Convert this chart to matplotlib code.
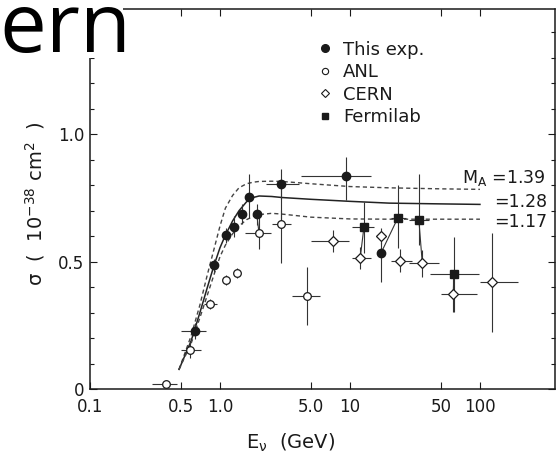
import numpy as np
import matplotlib
matplotlib.use('Agg')
import matplotlib.pyplot as plt
from matplotlib.lines import Line2D
from matplotlib.patches import Rectangle
from matplotlib.ticker import FixedLocator, MultipleLocator, NullLocator

# data
# this experiment (filled circles)
E_this = [0.64, 0.90, 1.11, 1.29, 1.48, 1.68, 1.92, 2.96, 9.4, 17.4]
s_this = [0.229, 0.486, 0.604, 0.638, 0.687, 0.755, 0.686, 0.806, 0.836, 0.536]
E_this_lo = [0.50, 0.84, 1.06, 1.24, 1.43, 1.63, 1.87, 2.24, 4.17, 17.4]
E_this_hi = [0.78, 0.97, 1.16, 1.34, 1.53, 1.73, 1.98, 4.05, 14.4, 17.4]
s_this_dn = [0.03, 0.025, 0.03, 0.04, 0.04, 0.085, 0.04, 0.06, 0.092, 0.114]
s_this_up = [0.03, 0.025, 0.03, 0.04, 0.04, 0.088, 0.04, 0.057, 0.076, 0.043]

# ANL (open circles)
E_anl = [0.382, 0.588, 0.838, 1.11, 1.36, 1.995, 2.96, 4.70]
s_anl = [0.021, 0.154, 0.333, 0.429, 0.455, 0.614, 0.647, 0.367]
E_anl_lo = [0.298, 0.50, 0.753, 1.07, 1.31, 1.55, 2.52, 3.60]
E_anl_hi = [0.469, 0.71, 0.954, 1.15, 1.41, 2.45, 3.50, 5.84]
s_anl_dn = [0.005, 0.03, 0.02, 0.02, 0.02, 0.065, 0.153, 0.115]
s_anl_up = [0.005, 0.03, 0.02, 0.02, 0.02, 0.065, 0.056, 0.114]

# CERN (open diamonds)
E_cern = [7.44, 12.0, 17.2, 24.4, 36.0, 62.3, 123.0]
s_cern = [0.583, 0.516, 0.601, 0.504, 0.495, 0.373, 0.419]
E_cern_lo = [5.0, 10.4, 15.8, 20.6, 28.5, 49.9, 101.0]
E_cern_hi = [9.8, 14.4, 18.8, 30.2, 48.3, 95.3, 197.0]
s_cern_err = [0.043, 0.043, 0.03, 0.046, 0.053, 0.069, 0.193]

# Fermilab (filled squares)
E_fnal = [12.8, 23.4, 33.9, 63.1]
s_fnal = [0.635, 0.673, 0.664, 0.452]
E_fnal_lo = [10.4, 20.6, 28.5, 41.6]
E_fnal_hi = [15.3, 26.8, 40.4, 98.0]
s_fnal_dn = [0.10, 0.12, 0.10, 0.147]
s_fnal_up = [0.10, 0.128, 0.18, 0.147]

# lines joining related points (this/anl, fnal/cern, ...)
ties_this_anl = [(7, 6), (6, 5)]
ties_fnal_cern = [(0, 1), (2, 4), (3, 5)]
ties_fnal_this = [(1, 9)]

# theory curves for three axial masses
E_th = [0.484, 0.6, 0.7, 0.8, 0.9, 1.0, 1.1, 1.25, 1.4, 1.6, 1.8, 2.0, 2.5, 3.0, 5.0, 10, 20, 50, 100]
s_139 = [0.078, 0.21, 0.33, 0.45, 0.55, 0.64, 0.71, 0.76, 0.79, 0.806, 0.812, 0.815, 0.816, 0.815, 0.806, 0.795, 0.79, 0.786, 0.784]
s_128 = [0.078, 0.19, 0.30, 0.40, 0.486, 0.555, 0.604, 0.66, 0.70, 0.735, 0.752, 0.758, 0.756, 0.752, 0.745, 0.737, 0.730, 0.727, 0.725]
s_117 = [0.078, 0.18, 0.28, 0.37, 0.45, 0.52, 0.565, 0.61, 0.64, 0.665, 0.678, 0.685, 0.69, 0.687, 0.675, 0.668, 0.667, 0.667, 0.667]
ma_labels = ['M$_A$ =1.39', '=1.28', '=1.17']

xticks = [0.1, 0.5, 1.0, 5.0, 10, 50, 100]
xticklabels = ['0.1', '0.5', '1.0', '5.0', '10', '50', '100']
yticks = [0, 0.5, 1.0]
yticklabels = ['0', '0.5', '1.0']

ink = '#1a1a1a'
plt.rcParams['font.family'] = ['DejaVu Sans']
plt.rcParams['mathtext.default'] = 'regular'

fig = plt.figure(figsize=(5.57, 4.54), dpi=100)
ax = fig.add_axes([90/557, 1 - 389.3/454, 465/557, 380/454])
ax.set_xscale('log')
ax.set_xlim(0.1, 378)
ax.set_ylim(0, 1.49)

def asym(v, lo, hi):
    v = np.array(v); return [v - np.array(lo), np.array(hi) - v]

ebkw = dict(ls='none', ecolor='#333333', elinewidth=0.8, capsize=0)
ax.errorbar(E_this, s_this, xerr=asym(E_this, E_this_lo, E_this_hi),
            yerr=[s_this_dn, s_this_up], fmt='o', ms=6, mfc=ink, mec=ink, zorder=4, **ebkw)
ax.errorbar(E_anl, s_anl, xerr=asym(E_anl, E_anl_lo, E_anl_hi),
            yerr=[s_anl_dn, s_anl_up], fmt='o', ms=5.5, mfc='white', mec=ink, mew=0.9, zorder=4, **ebkw)
ax.errorbar(E_cern, s_cern, xerr=asym(E_cern, E_cern_lo, E_cern_hi),
            yerr=s_cern_err, fmt='D', ms=5, mfc='white', mec=ink, mew=0.9, zorder=4, **ebkw)
ax.errorbar(E_fnal, s_fnal, xerr=asym(E_fnal, E_fnal_lo, E_fnal_hi),
            yerr=[s_fnal_dn, s_fnal_up], fmt='s', ms=5.5, mfc=ink, mec=ink, zorder=4, **ebkw)

for a, b in ties_this_anl:
    ax.plot([E_this[a], E_anl[b]], [s_this[a], s_anl[b]], color='#333333', lw=0.8, zorder=3)
for a, b in ties_fnal_cern:
    ax.plot([E_fnal[a], E_cern[b]], [s_fnal[a], s_cern[b]], color='#333333', lw=0.8, zorder=3)
for a, b in ties_fnal_this:
    ax.plot([E_fnal[a], E_this[b]], [s_fnal[a], s_this[b]], color='#333333', lw=0.8, zorder=3)

ax.plot(E_th, s_139, color='#444444', lw=1.0, ls=(0, (3, 2.2)), zorder=2)
ax.plot(E_th, s_128, color='#222222', lw=1.1, zorder=2)
ax.plot(E_th, s_117, color='#444444', lw=1.0, ls=(0, (3, 2.2)), zorder=2)

ax.text(73, 0.828, ma_labels[0], fontsize=12.5, color=ink, va='center', ha='left')
ax.text(128, 0.735, ma_labels[1], fontsize=12.5, color=ink, va='center', ha='left')
ax.text(128, 0.656, ma_labels[2], fontsize=12.5, color=ink, va='center', ha='left')

ax.xaxis.set_major_locator(FixedLocator(xticks))
ax.xaxis.set_minor_locator(NullLocator())
ax.set_xticklabels(xticklabels)
ax.yaxis.set_major_locator(FixedLocator(yticks))
ax.yaxis.set_minor_locator(MultipleLocator(0.1))
ax.set_yticklabels(yticklabels)
ax.tick_params(which='both', direction='in', top=True, right=True, color=ink,
               labelsize=12, labelcolor=ink, width=0.8)
ax.tick_params(which='major', length=5, pad=4)
ax.tick_params(axis='x', which='major', pad=6)
ax.tick_params(which='minor', length=3)
for sp in ax.spines.values():
    sp.set_color(ink)
    sp.set_linewidth(1.1)

ax.set_xlabel(r'E$_\nu$  (GeV)', fontsize=14, color=ink)
ax.xaxis.set_label_coords(0.432, -0.112)
ax.set_ylabel(r'$\sigma$  (  10$^{-38}$ cm$^2$  )', fontsize=14, color=ink)
ax.yaxis.set_label_coords(-0.092, 0.49)

handles = [Line2D([], [], ls='none', marker='o', ms=5.5, mfc=ink, mec=ink),
           Line2D([], [], ls='none', marker='o', ms=4.5, mfc='white', mec=ink, mew=0.8),
           Line2D([], [], ls='none', marker='D', ms=4.2, mfc='white', mec=ink, mew=0.8),
           Line2D([], [], ls='none', marker='s', ms=5, mfc=ink, mec=ink)]
ax.legend(handles, ['This exp.', 'ANL', 'CERN', 'Fermilab'], loc='upper left',
          bbox_to_anchor=(0.455, 0.96), frameon=False, fontsize=13, handlelength=0.8,
          handletextpad=0.6, labelspacing=0.25, labelcolor=ink)

# slide title fragment covering the upper left corner
fig.add_artist(Rectangle((0, 1 - 58/454), 123/557, 58/454, transform=fig.transFigure,
                         facecolor='white', edgecolor='none', zorder=5))
fig.text(131/557, 1 - 52/454, 'ern', fontsize=60, family='Open Sans', color='black',
         ha='right', va='baseline', zorder=6)

fig.savefig('out.png', dpi=100)
